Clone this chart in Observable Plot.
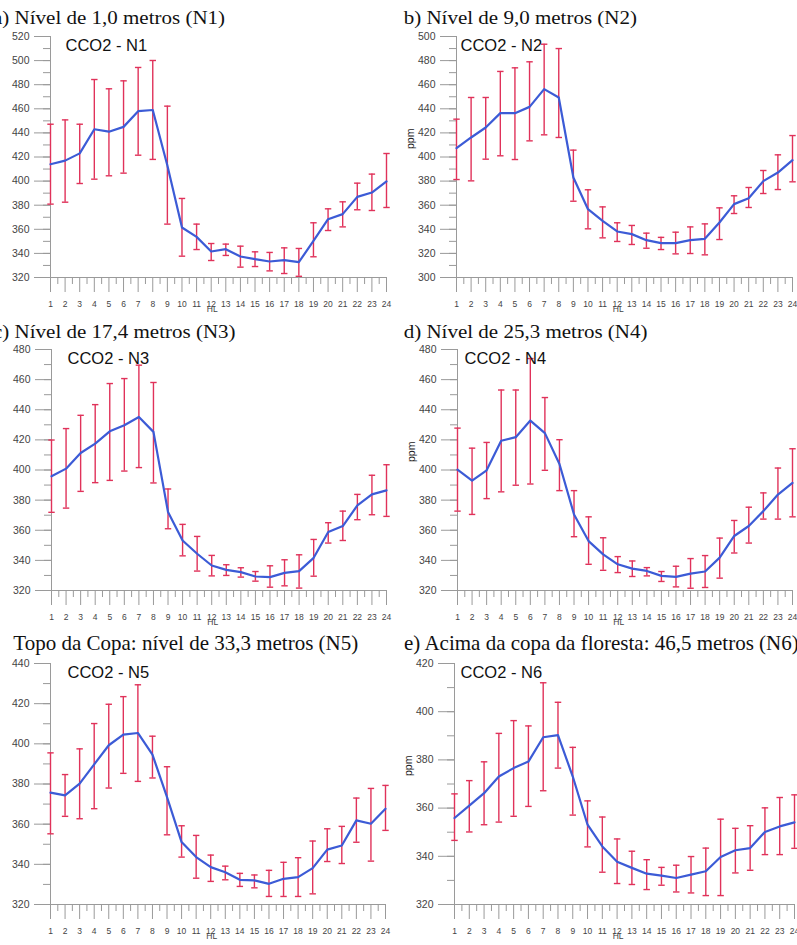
<!DOCTYPE html>
<html><head><meta charset="utf-8">
<script src="https://cdn.jsdelivr.net/npm/d3@7"></script>
<script src="https://cdn.jsdelivr.net/npm/@observablehq/plot@0.6"></script>
<style>
html,body{margin:0;padding:0;background:#fff;}
#chart{position:relative;width:797px;height:945px;overflow:hidden;background:#fff;}
.title{position:absolute;font-family:"Liberation Serif","Times New Roman",serif;font-size:21px;color:#111;white-space:nowrap;line-height:21px;transform-origin:0 17.6px;}
.squash{transform:scaleY(0.86);}
.panel{position:absolute;}
</style></head><body><div id="chart"></div>
<script>
const hours = [1,2,3,4,5,6,7,8,9,10,11,12,13,14,15,16,17,18,19,20,21,22,23,24];
const titles = [
  "a) Nível de 1,0 metros (N1)",
  "b) Nível de 9,0 metros (N2)",
  "c) Nível de 17,4 metros (N3)",
  "d) Nível de 25,3 metros (N4)",
  "Topo da Copa: nível de 33,3 metros (N5)",
  "e) Acima da copa da floresta: 46,5 metros (N6)"
];
const seriesNames = ["CCO2 - N1","CCO2 - N2","CCO2 - N3","CCO2 - N4","CCO2 - N5","CCO2 - N6"];
const yLabel = "ppm";
const xLabel = "HL";

const n1Mean = [414, 417, 423, 443, 441, 445, 458, 459, 413, 361.5, 353.7, 341.6, 343.5, 337.4, 335.2, 333.3, 334.4, 332.7, 350.4, 368.4, 372.6, 386.9, 390.5, 399.7];
const n1Low  = [380.9, 382.5, 398.0, 401.6, 404.4, 406.6, 421.5, 418.0, 364.3, 337.7, 343.2, 334.1, 338.3, 328.6, 329.1, 325.5, 323.3, 321.0, 337.2, 359.0, 362.0, 376.2, 375.6, 378.1];
const n1High = [447.2, 450.8, 447.2, 484.3, 476.6, 483.2, 494.3, 500.1, 462.2, 385.6, 364.3, 348.2, 347.7, 346.0, 341.3, 340.8, 344.6, 344.1, 365.4, 377.0, 382.8, 398.3, 405.8, 422.9];

const n2Mean = [407.3, 416.2, 424.5, 436.4, 436.4, 441.6, 456.3, 449.4, 383.0, 356.7, 347.0, 338.2, 336.0, 331.0, 328.5, 328.5, 331.0, 332.1, 345.6, 360.9, 365.8, 380.0, 387.1, 397.4];
const n2Low  = [381.3, 380.2, 398.2, 401.0, 397.9, 413.4, 418.4, 416.2, 363.3, 340.4, 332.9, 329.9, 327.4, 324.3, 323.2, 319.6, 319.9, 318.8, 331.5, 353.1, 358.1, 369.7, 373.0, 379.4];
const n2High = [431.4, 449.4, 449.4, 471.0, 474.0, 479.0, 493.6, 490.0, 405.7, 372.8, 358.6, 345.4, 343.2, 336.8, 333.3, 337.6, 342.0, 344.5, 357.8, 367.8, 374.7, 388.8, 401.8, 417.8];

const n3Mean = [395.8, 400.9, 411.3, 417.5, 425.7, 429.7, 435.2, 425.3, 372.1, 353.2, 344.4, 336.6, 333.7, 332.2, 329.3, 328.9, 331.7, 332.9, 341.7, 358.8, 362.8, 376.5, 383.8, 386.5];
const n3Low  = [371.9, 374.7, 385.8, 391.6, 393.1, 399.3, 401.6, 391.4, 361.0, 343.0, 332.9, 329.7, 330.0, 328.9, 326.2, 322.2, 323.1, 321.6, 329.5, 351.5, 353.2, 367.0, 370.3, 369.2];
const n3High = [419.9, 427.5, 436.3, 443.4, 457.4, 460.7, 469.6, 458.1, 387.4, 363.9, 355.9, 343.3, 337.1, 335.1, 332.6, 336.4, 340.4, 343.7, 353.9, 365.0, 372.7, 383.8, 396.5, 403.5];

const n4Mean = [400.2, 392.9, 399.8, 419.4, 421.8, 432.8, 424.5, 404.0, 370.5, 352.8, 344.0, 337.4, 334.5, 333.0, 329.7, 329.0, 331.2, 332.6, 341.8, 356.2, 362.8, 372.7, 383.7, 391.4];
const n4Low  = [372.7, 370.5, 381.0, 385.5, 389.9, 390.7, 399.8, 386.3, 355.7, 337.4, 333.4, 331.9, 329.3, 329.7, 326.0, 322.4, 321.5, 322.0, 328.2, 344.9, 351.5, 367.4, 367.4, 368.9];
const n4High = [427.8, 414.5, 418.3, 453.1, 453.1, 474.0, 448.1, 420.1, 386.3, 368.9, 355.0, 342.5, 339.6, 335.2, 332.6, 336.1, 341.2, 343.2, 354.8, 366.5, 375.3, 384.8, 401.3, 414.1];

const n5Mean = [375.7, 374.3, 380.2, 389.8, 399.3, 404.6, 405.4, 394.6, 373.5, 351.1, 343.6, 338.6, 336.1, 332.3, 332.0, 330.3, 332.8, 333.6, 338.1, 347.3, 349.4, 361.9, 360.2, 367.7];
const n5Low  = [355.2, 363.9, 362.7, 367.7, 378.0, 385.3, 381.3, 383.0, 354.7, 343.6, 333.1, 331.5, 332.3, 329.0, 328.3, 324.0, 324.0, 324.0, 325.3, 341.4, 340.4, 351.0, 341.6, 356.9];
const n5High = [395.5, 384.7, 397.5, 410.1, 419.7, 423.5, 429.4, 403.8, 388.6, 359.2, 354.4, 344.6, 339.1, 335.5, 334.7, 337.0, 341.0, 343.3, 351.6, 357.7, 358.9, 373.0, 377.8, 379.3];

const n6Mean = [355.9, 361.0, 366.2, 373.1, 376.6, 379.3, 389.4, 390.3, 373.1, 353.1, 344.1, 337.7, 335.2, 332.8, 332.0, 331.0, 332.4, 333.8, 339.7, 342.5, 343.4, 350.1, 352.4, 354.1];
const n6Low  = [346.6, 350.1, 353.1, 354.2, 356.6, 360.7, 367.2, 376.6, 357.1, 343.9, 333.4, 328.7, 328.3, 326.2, 328.0, 325.2, 324.8, 323.7, 323.7, 333.1, 334.2, 340.7, 340.7, 343.3];
const n6High = [365.9, 371.4, 379.2, 391.0, 396.3, 394.1, 412.0, 403.9, 385.2, 363.0, 356.3, 347.2, 342.1, 338.6, 335.4, 336.3, 339.9, 343.4, 355.4, 351.6, 352.7, 360.1, 364.4, 365.5];

const yDomains = [[320,520],[300,500],[320,480],[320,480],[320,440],[320,420]];

const RED = "#e0325a", BLUE = "#3c5bd6", AXIS = "#9a9a9a", LABEL = "#444";
const FONT = "'Liberation Sans', Arial, sans-serif";

const chart = document.getElementById("chart");

function addTitle(text, left, top, squash){
  const d = document.createElement("div");
  d.className = "title" + (squash ? " squash" : "");
  d.textContent = text;
  d.style.left = left + "px";
  d.style.top = top + "px";
  chart.appendChild(d);
}

// layout (pixel placement only)
const panels = [
  {mean:n1Mean, low:n1Low, high:n1High, left:0,   top:25.7,  width:397, ml:50, mr:11, labelDx:15, ppm:false},
  {mean:n2Mean, low:n2Low, high:n2High, left:397, top:25.7,  width:400, ml:59, mr:5,  labelDx:4,  ppm:true},
  {mean:n3Mean, low:n3Low, high:n3High, left:0,   top:339.3, width:397, ml:51, mr:11, labelDx:16, ppm:false},
  {mean:n4Mean, low:n4Low, high:n4High, left:397, top:339.3, width:400, ml:60, mr:5,  labelDx:7,  ppm:true},
  {mean:n5Mean, low:n5Low, high:n5High, left:0,   top:653.3, width:397, ml:50, mr:12, labelDx:17, ppm:false},
  {mean:n6Mean, low:n6Low, high:n6High, left:397, top:653.3, width:400, ml:57, mr:3,  labelDx:6,  ppm:true}
];

const halfHours = hours.slice(1).map(h => h - 0.5);

panels.forEach((p, k) => {
  const dom = yDomains[k];
  const data = hours.map((h, i) => ({h, m: p.mean[i], lo: p.low[i], hi: p.high[i]}));
  const majorY = d3.range(dom[0], dom[1] + 1, 20);
  const minorY = d3.range(dom[0], dom[1] + 1, 10);
  const marks = [
    Plot.ruleX([1], {stroke: AXIS}),
    Plot.ruleY([dom[0]], {stroke: AXIS}),
    Plot.axisY({ticks: minorY, tickSize: 7, tickFormat: () => "", stroke: AXIS, label: null}),
    Plot.axisY({ticks: majorY, tickSize: 16, tickPadding: 5, fontSize: 10.5, fill: LABEL, stroke: AXIS, label: null}),
    Plot.axisX({ticks: halfHours, tickSize: 7, tickFormat: () => "", stroke: AXIS, label: null}),
    Plot.axisX({ticks: hours, tickSize: 15, tickPadding: 8, fontSize: 8.5, fill: LABEL, stroke: AXIS, label: null, tickFormat: d => String(d)}),
    Plot.text([xLabel], {x: () => 12, y: () => dom[0], dy: 32, dx: 1, fontSize: 8.5, fill: LABEL, text: d => d}),
    Plot.ruleX(data, {x: "h", y1: "lo", y2: "hi", stroke: RED, strokeWidth: 1.4}),
    Plot.link(data, {x1: d => d.h - 0.22, x2: d => d.h + 0.22, y1: "hi", y2: "hi", stroke: RED, strokeWidth: 1.4}),
    Plot.link(data, {x1: d => d.h - 0.22, x2: d => d.h + 0.22, y1: "lo", y2: "lo", stroke: RED, strokeWidth: 1.4}),
    Plot.line(data, {x: "h", y: "m", stroke: BLUE, strokeWidth: 2.2}),
    Plot.text([seriesNames[k]], {frameAnchor: "top-left", textAnchor: "start", lineAnchor: "top", dx: p.labelDx, dy: 3, fontSize: 16.5, fill: "#111", text: d => d})
  ];
  if (p.ppm) {
    marks.push(Plot.text([yLabel], {frameAnchor: "left", rotate: -90, dx: -46, dy: -8, fontSize: 10.5, fill: "#222", text: d => d}));
  }
  const svg = Plot.plot({
    width: p.width, height: 291,
    marginLeft: p.ml, marginRight: p.mr, marginTop: 10, marginBottom: 40,
    x: {domain: [1, 24], axis: null},
    y: {domain: dom, axis: null},
    style: {background: "transparent", overflow: "visible", fontFamily: FONT},
    marks
  });
  svg.classList.add("panel");
  svg.style.left = p.left + "px";
  svg.style.top = p.top + "px";
  chart.appendChild(svg);
});

addTitle(titles[0], -7, 7.4, true);
addTitle(titles[1], 403.7, 7.4, true);
addTitle(titles[2], -7, 321.4, true);
addTitle(titles[3], 403.7, 321.4, true);
addTitle(titles[4], 13.3, 633, false);
addTitle(titles[5], 404, 632.5, false);
</script>
</body></html>
